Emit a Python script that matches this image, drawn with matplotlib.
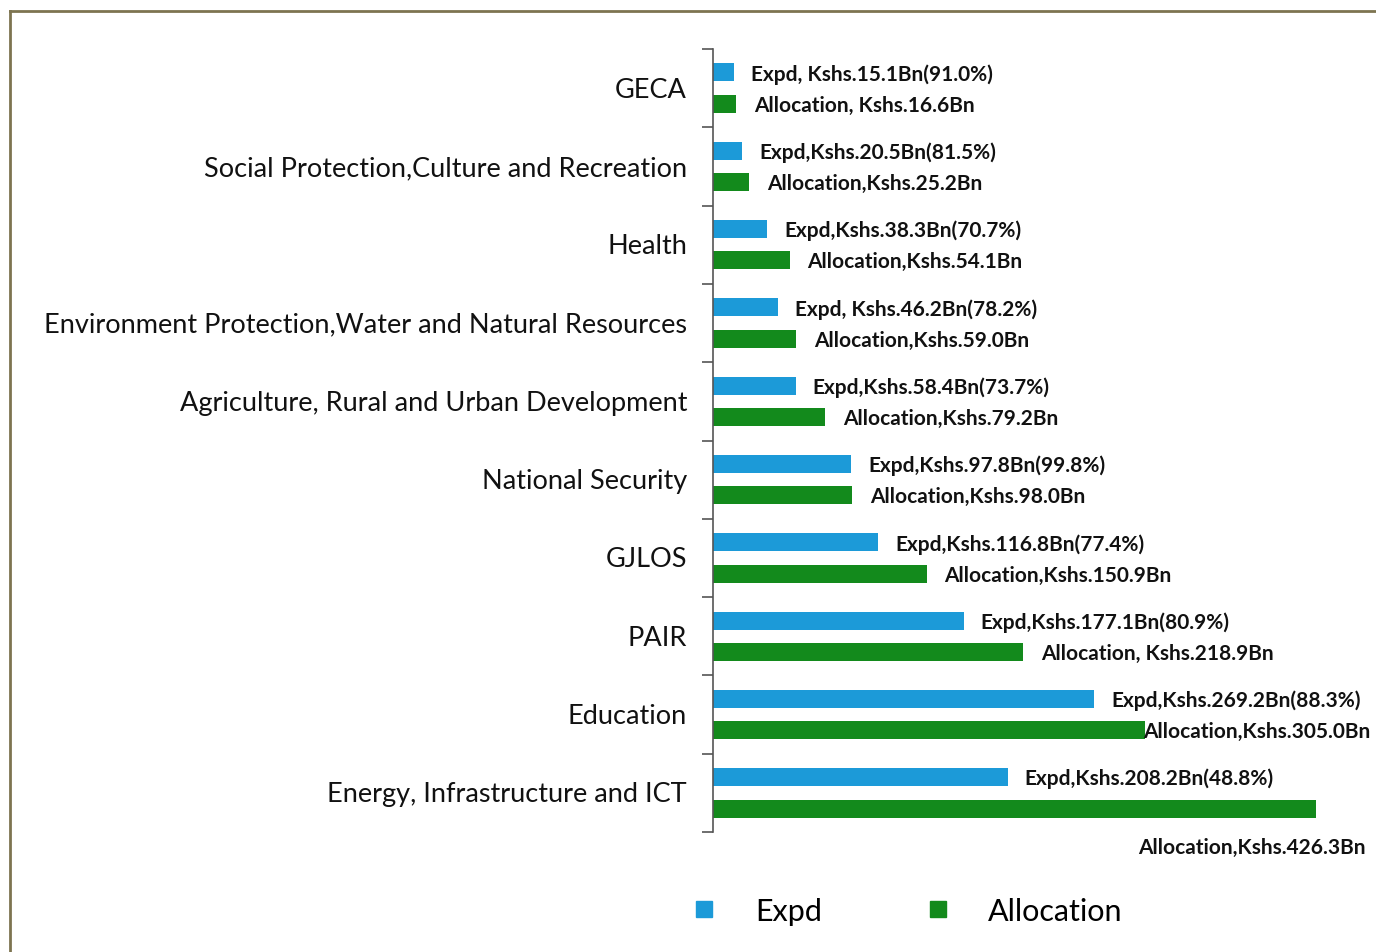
import matplotlib
matplotlib.use("Agg")
import matplotlib.pyplot as plt
from matplotlib.lines import Line2D
import numpy as np

categories = ["GECA",
              "Social Protection,Culture and Recreation",
              "Health",
              "Environment Protection,Water and Natural Resources",
              "Agriculture, Rural and Urban Development",
              "National Security",
              "GJLOS",
              "PAIR",
              "Education",
              "Energy, Infrastructure and ICT"]
expd = [15.1, 20.5, 38.3, 46.2, 58.4, 97.8, 116.8, 177.1, 269.2, 208.2]
alloc = [16.6, 25.2, 54.1, 59.0, 79.2, 98.0, 150.9, 218.9, 305.0, 426.3]
expd_labels = ["Expd, Kshs.15.1Bn(91.0%)", "Expd,Kshs.20.5Bn(81.5%)",
               "Expd,Kshs.38.3Bn(70.7%)", "Expd, Kshs.46.2Bn(78.2%)",
               "Expd,Kshs.58.4Bn(73.7%)", "Expd,Kshs.97.8Bn(99.8%)",
               "Expd,Kshs.116.8Bn(77.4%)", "Expd,Kshs.177.1Bn(80.9%)",
               "Expd,Kshs.269.2Bn(88.3%)", "Expd,Kshs.208.2Bn(48.8%)"]
alloc_labels = ["Allocation, Kshs.16.6Bn", "Allocation,Kshs.25.2Bn",
                "Allocation,Kshs.54.1Bn", "Allocation,Kshs.59.0Bn",
                "Allocation,Kshs.79.2Bn", "Allocation,Kshs.98.0Bn",
                "Allocation,Kshs.150.9Bn", "Allocation, Kshs.218.9Bn",
                "Allocation,Kshs.305.0Bn", "Allocation,Kshs.426.3Bn"]

BLUE = "#1c9ad8"
GREEN = "#138a1c"
plt.rcParams["font.family"] = ["Lato", "DejaVu Sans"]

W, H = 1376, 953
fig = plt.figure(figsize=(W / 100, H / 100), dpi=100)
ax = fig.add_axes([713 / W, 1 - 833 / H, (W - 713) / W, (833 - 50) / H])

n = len(categories)
y = np.arange(n)
bh = 0.23
off = 0.2
ax.barh(y - off, expd, height=bh, color=BLUE, label="Expd")
ax.barh(y + off, alloc, height=bh, color=GREEN, label="Allocation")

ax.set_ylim(n - 0.5, -0.5)
ax.set_xlim(0, (W - 713) / 1.415)

for s in ["top", "right", "bottom"]:
    ax.spines[s].set_visible(False)
ax.spines["left"].set_color("#555555")
ax.spines["left"].set_linewidth(1.2)
ax.set_xticks([])
ax.set_yticks(np.arange(n + 1) - 0.5)
ax.set_yticklabels([])
ax.tick_params(axis="y", length=8, width=1.2, color="#555555", direction="out")

for i, c in enumerate(categories):
    ax.annotate(c, xy=(0, i), xycoords=("axes fraction", "data"),
                xytext=(-26, -1), textcoords="offset pixels",
                ha="right", va="center", fontsize=19.5, color="#111111")

lab_kw = dict(fontsize=15, fontweight="bold", color="#111111", va="center",
              textcoords="offset pixels")
for i in range(n):
    ax.annotate(expd_labels[i], xy=(expd[i], i - off), xytext=(17, -1), ha="left", **lab_kw)
    if i == n - 1:
        ax.annotate(alloc_labels[i], xy=(alloc[i], i + off), xytext=(49, -38), ha="right", **lab_kw)
    elif i == n - 2:
        ax.annotate(alloc_labels[i], xy=(alloc[i], i + off), xytext=(-1, -1), ha="left", **lab_kw)
    else:
        ax.annotate(alloc_labels[i], xy=(alloc[i], i + off), xytext=(18, -1), ha="left", **lab_kw)

handles = [Line2D([], [], marker="s", linestyle="none", markersize=11, color=BLUE),
           Line2D([], [], marker="s", linestyle="none", markersize=11, color=GREEN)]
fig.legend(handles, ["Expd", "Allocation"], loc="center", bbox_to_anchor=(906 / W, 1 - 912 / H),
           ncol=2, frameon=False, fontsize=22, handlelength=1.0, handletextpad=1.15,
           columnspacing=3.3)

frame_c = "#7d7450"
fig.add_artist(Line2D([10 / W, 10 / W], [0, 1 - 12 / H], color=frame_c, lw=2, transform=fig.transFigure))
fig.add_artist(Line2D([10 / W, 1], [1 - 12 / H, 1 - 12 / H], color=frame_c, lw=2, transform=fig.transFigure))

fig.savefig("out.png", dpi=100)
